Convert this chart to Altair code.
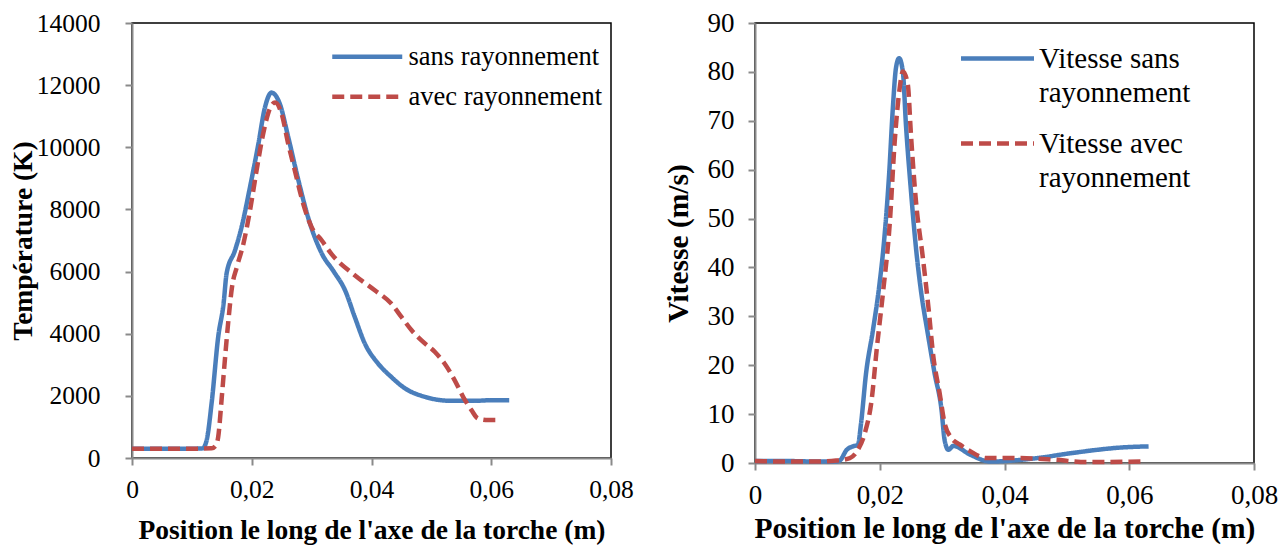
import altair as alt
import pandas as pd

# ---------------- data ----------------
x_t_sans = [0, 0.005, 0.010, 0.0118, 0.0125, 0.0133, 0.0144, 0.0153, 0.0158, 0.0172,
            0.0183, 0.0197, 0.0211, 0.0222, 0.0233, 0.0247, 0.0261, 0.0278, 0.0294,
            0.0317, 0.0337, 0.0356, 0.0372, 0.0389, 0.0411, 0.0433, 0.0456, 0.0489,
            0.0533, 0.0572, 0.0600, 0.0630]
t_sans = [300, 300, 300, 310, 600, 1770, 3900, 4980, 5940, 6680,
          7430, 8710, 10100, 11280, 11760, 11390, 10320, 8930, 7750,
          6580, 6000, 5390, 4540, 3680, 3040, 2610, 2240, 1970,
          1840, 1840, 1860, 1860]

x_t_avec = [0, 0.005, 0.010, 0.0133, 0.0140, 0.0144, 0.0150, 0.0156, 0.0161, 0.0167,
            0.0175, 0.0186, 0.0197, 0.0208, 0.0219, 0.0231, 0.0239, 0.0250, 0.0261,
            0.0272, 0.0286, 0.0300, 0.0317, 0.0333, 0.0372, 0.0406, 0.0433, 0.0450,
            0.0467, 0.0483, 0.0506, 0.0522, 0.0539, 0.0553, 0.0567, 0.0578, 0.0595,
            0.0614]
t_avec = [300, 300, 300, 310, 400, 680, 1970, 3360, 4430, 5500,
          6140, 6890, 7960, 9250, 10430, 11280, 11440, 11070, 10100,
          9250, 8180, 7430, 7000, 6570, 5880, 5390, 4970, 4540,
          4110, 3790, 3410, 3040, 2500, 1970, 1540, 1270, 1220,
          1220]

x_v_sans = [0, 0.005, 0.010, 0.013, 0.0136, 0.0147, 0.0157, 0.0165, 0.0170, 0.0178,
            0.0189, 0.0199, 0.0207, 0.0215, 0.0221, 0.0226, 0.0231, 0.0237, 0.0242,
            0.0250, 0.0258, 0.0266, 0.0277, 0.0288, 0.0299, 0.0304, 0.0310, 0.0318,
            0.0345, 0.0377, 0.0452, 0.0506, 0.0591, 0.0631]
v_sans = [0.4, 0.4, 0.3, 0.3, 0.5, 2.7, 3.4, 3.7, 8.1, 18.3,
          27.1, 36.0, 45.5, 59.0, 72.6, 80.8, 82.8, 80.1, 69.2,
          55.7, 44.1, 35.3, 26.5, 18.3, 10.9, 4.7, 2.7, 3.5,
          1.7, 0.3, 1.0, 2.0, 3.2, 3.4]

x_v_avec = [0, 0.005, 0.010, 0.013, 0.0152, 0.0165, 0.0176, 0.0187, 0.0195, 0.0205,
            0.0216, 0.0224, 0.0232, 0.0237, 0.0245, 0.0250, 0.0258, 0.0269, 0.0278,
            0.0286, 0.0296, 0.0304, 0.0315, 0.0328, 0.0345, 0.0371, 0.0425, 0.0478,
            0.0532, 0.0623]
v_avec = [0.4, 0.3, 0.3, 0.5, 1.0, 2.7, 6.1, 12.9, 23.1, 34.6,
          48.9, 65.8, 76.7, 80.1, 77.4, 67.2, 53.6, 42.1, 31.9,
          21.7, 14.3, 8.1, 5.1, 3.8, 2.4, 1.0, 1.0, 0.7,
          0.2, 0.3]

series_t = ["sans rayonnement", "avec rayonnement"]
series_v = ["Vitesse sans rayonnement", "Vitesse avec rayonnement"]
x_ticks = [0, 0.02, 0.04, 0.06, 0.08]
t_ticks = [0, 2000, 4000, 6000, 8000, 10000, 12000, 14000]
v_ticks = [0, 10, 20, 30, 40, 50, 60, 70, 80, 90]

x_title = "Position le long de l'axe de la torche (m)"

BLUE = "#4A7EBB"
RED = "#BE4B48"
GRAY = "#8A8A8A"
FONT = "Liberation Serif"
DASH = [12, 6]

temp = pd.concat([
    pd.DataFrame({"x": x_t_sans, "y": t_sans, "serie": series_t[0]}),
    pd.DataFrame({"x": x_t_avec, "y": t_avec, "serie": series_t[1]}),
])
vit = pd.concat([
    pd.DataFrame({"x": x_v_sans, "y": v_sans, "serie": series_v[0]}),
    pd.DataFrame({"x": x_v_avec, "y": v_avec, "serie": series_v[1]}),
])

x_label_expr = "datum.value == 0 ? '0' : replace(format(datum.value, '.2f'), '.', ',')"


def panel(data, series, yticks, ymax, ytitle, w, h, fs_tick, fs_title, fs_leg,
          ylabpad, ytitlepad, xtitlepad, legx, legy, rowpad, laboff, label_expr, symw):
    base = alt.Chart(data)
    xenc = alt.X("x:Q", scale=alt.Scale(domain=[0, 0.08], nice=False),
                 axis=alt.Axis(values=x_ticks, labelExpr=x_label_expr, title=x_title,
                               labelFontSize=fs_tick, titleFontSize=fs_title,
                               labelPadding=12, titlePadding=xtitlepad, labelFlush=False))
    yenc = alt.Y("y:Q", scale=alt.Scale(domain=[0, ymax], nice=False),
                 axis=alt.Axis(values=yticks, format="d", title=ytitle,
                               labelFontSize=fs_tick, titleFontSize=fs_title,
                               labelPadding=ylabpad, titlePadding=ytitlepad))
    half = symw / 20.0  # path drawn at scale sqrt(400)/2 = 10
    leg_kwargs = dict(orient="none", legendX=legx, legendY=legy, title=None,
                      symbolType=f"M-{half:.3f},0H{half:.3f}", symbolSize=400,
                      symbolStrokeWidth=4.5,
                      labelFont=FONT, labelFontSize=fs_leg, labelColor="black",
                      labelLimit=400, rowPadding=rowpad, padding=0, labelOffset=laboff)
    if label_expr:
        leg_kwargs["labelExpr"] = label_expr
    color = alt.Color("serie:N", scale=alt.Scale(domain=series, range=[BLUE, RED]),
                      legend=alt.Legend(**leg_kwargs))
    dash = alt.StrokeDash("serie:N", scale=alt.Scale(domain=series, range=[[1, 0], DASH]),
                          legend=alt.Legend(**leg_kwargs))
    layers = []
    for s in series:
        layers.append(
            base.transform_filter(alt.datum.serie == s)
            .mark_line(strokeWidth=4.5, interpolate="monotone")
            .encode(x=xenc, y=yenc, color=color, strokeDash=dash)
        )
    return alt.layer(*layers).properties(width=w, height=h)


left = panel(temp, series_t, t_ticks, 14000, "Température (K)", 479, 435,
             25.5, 27.5, 26.5, 25, -1, 13.5, 222, 20.5, 13, 28, None, 70)
right = panel(vit, series_v, v_ticks, 90, "Vitesse (m/s)", 499, 440,
              27, 29.5, 29, 14, 14, 6, 228, 21, 21, 27,
              "split(replace(datum.label, ' rayonnement', '|rayonnement'), '|')", 73)

chart = alt.hconcat(left, right, spacing=27).resolve_scale(
    color="independent", strokeDash="independent"
).resolve_legend(color="independent", strokeDash="independent").properties(
    padding={"left": 0, "top": 0, "right": 0, "bottom": 0}
).configure(style={"guide-label": {"lineHeight": 34}}).configure_view(
    stroke="black", strokeWidth=1.5
).configure_axis(
    grid=False, domainColor=GRAY, domainWidth=2, tickColor=GRAY, tickWidth=2,
    tickSize=7, labelFont=FONT, labelColor="black", titleFont=FONT,
    titleColor="black", titleFontWeight="bold"
)

chart.save("out.html", embed_options={"renderer": "svg", "actions": False})
